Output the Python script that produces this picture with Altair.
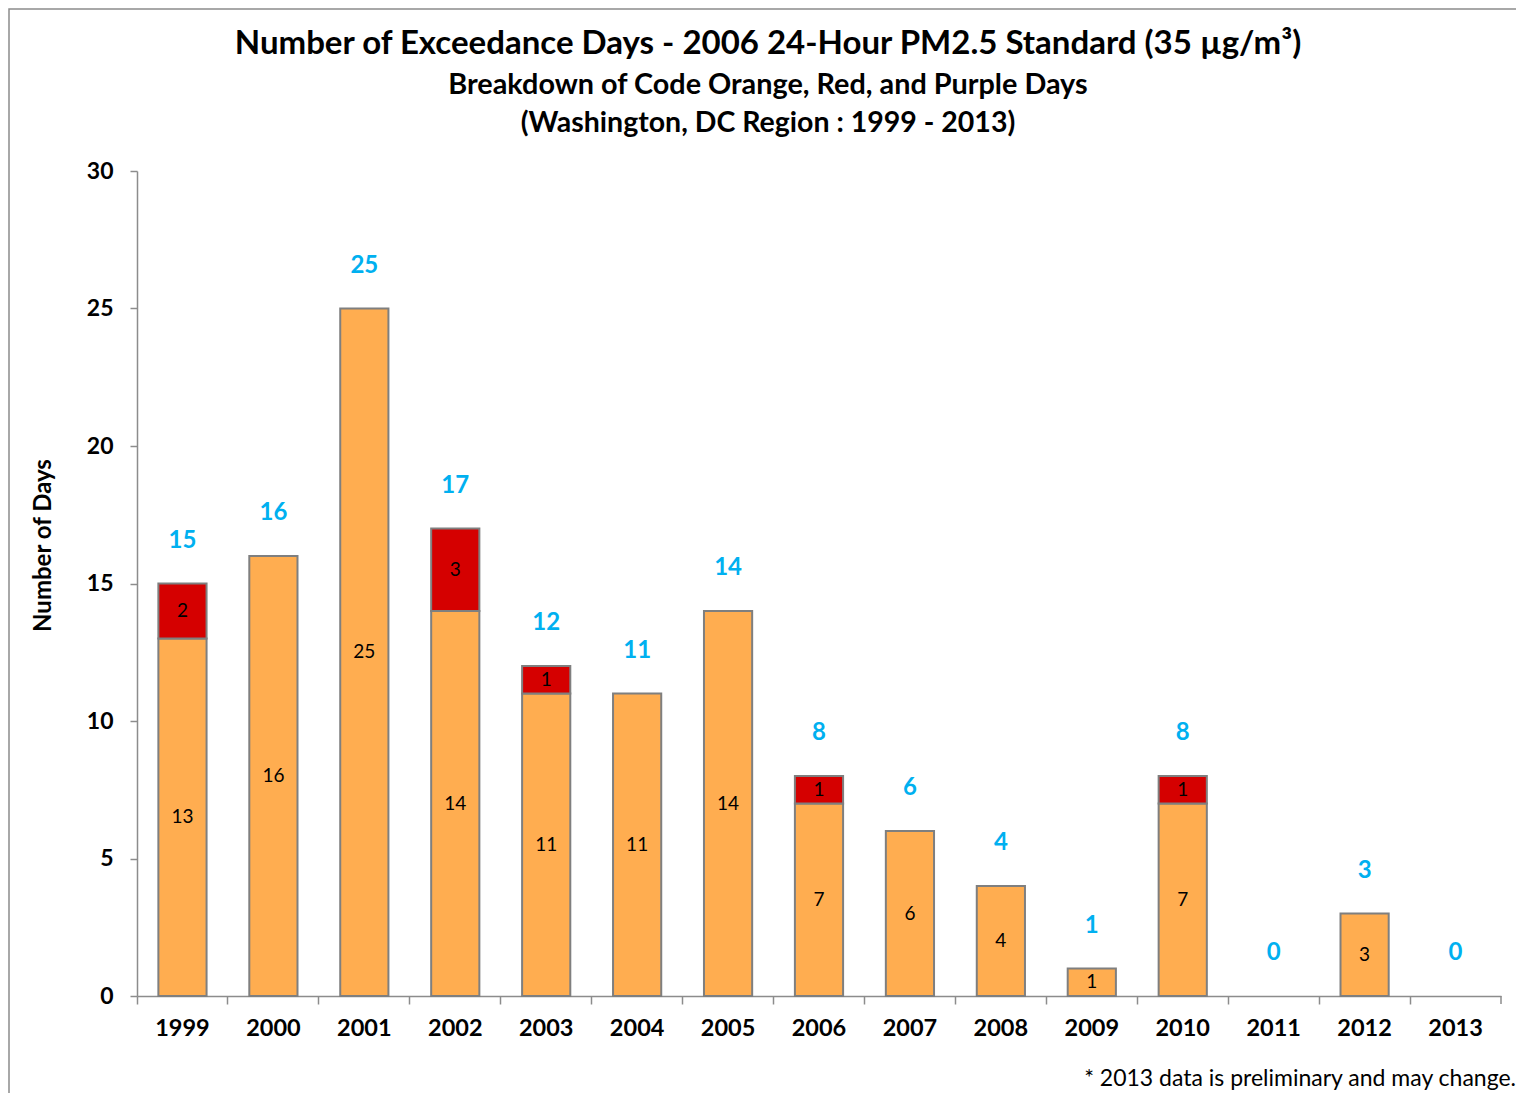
import altair as alt
import pandas as pd

years = ["1999", "2000", "2001", "2002", "2003", "2004", "2005", "2006",
         "2007", "2008", "2009", "2010", "2011", "2012", "2013"]
orange_days = [13, 16, 25, 14, 11, 11, 14, 7, 6, 4, 1, 7, 0, 3, 0]
red_days = [2, 0, 0, 3, 1, 0, 0, 1, 0, 0, 0, 1, 0, 0, 0]
categories = ["Code Orange", "Code Red"]
colors = ["#FFAD50", "#D50000"]

title_lines = [
    "Number of Exceedance Days - 2006 24-Hour PM2.5 Standard (35 µg/m³)",
    "Breakdown of Code Orange, Red, and Purple Days",
    "(Washington, DC Region : 1999 - 2013)",
]
footnote_text = "* 2013 data is preliminary and may change."

rows = []
for y, o, r in zip(years, orange_days, red_days):
    rows.append({"year": y, "cat": categories[0], "y0": 0, "y1": o, "days": o})
    rows.append({"year": y, "cat": categories[1], "y0": o, "y1": o + r, "days": r})
seg = pd.DataFrame(rows)
seg["mid"] = (seg["y0"] + seg["y1"]) / 2
seg = seg[seg["days"] > 0]

tot = pd.DataFrame({"year": years,
                    "total": [o + r for o, r in zip(orange_days, red_days)]})

FONT = "Lato"
W, H = 1364, 825

x_enc = alt.X("year:N", sort=years,
              scale=alt.Scale(paddingInner=0, paddingOuter=0),
              axis=alt.Axis(title=None, labelAngle=0, labelFont=FONT,
                            labelFontSize=23.5, labelFontWeight="bold",
                            labelColor="black", labelPadding=12,
                            tickColor="#8C8C8C", tickSize=8, tickWidth=1.5,
                            domainColor="#8C8C8C", domainWidth=1.5,
                            bandPosition=0))
y_scale = alt.Scale(domain=[0, 30], nice=False)

bars = alt.Chart(seg).mark_bar(width=alt.RelativeBandSize(0.53),
                               stroke="#7F7F7F", strokeWidth=2).encode(
    x=x_enc,
    y=alt.Y("y0:Q", scale=y_scale,
            axis=alt.Axis(title="Number of Days", values=[0, 5, 10, 15, 20, 25, 30],
                          grid=False, labelFont=FONT, labelFontSize=23,
                          labelFontWeight="bold", labelColor="black",
                          labelPadding=17, tickSize=7, tickColor="#8C8C8C",
                          tickWidth=1.5, domainColor="#8C8C8C", domainWidth=1.5,
                          titleFont=FONT, titleFontSize=24, titleFontWeight="bold",
                          titleColor="black", titleAngle=270, titleX=-94,
                          titleY=374, titleAlign="center",
                          titleBaseline="middle")),
    y2="y1:Q",
    color=alt.Color("cat:N", scale=alt.Scale(domain=categories, range=colors),
                    legend=None),
)

seg_labels = alt.Chart(seg).mark_text(font=FONT, fontSize=19, color="black",
                                      baseline="middle").encode(
    x=alt.X("year:N", sort=years),
    y=alt.Y("mid:Q", scale=y_scale),
    text="days:Q",
)

tot_labels = alt.Chart(tot).mark_text(font=FONT, fontSize=24, fontWeight="bold",
                                      color="#00B0F0", baseline="middle",
                                      dy=-43).encode(
    x=alt.X("year:N", sort=years),
    y=alt.Y("total:Q", scale=y_scale),
    text="total:Q",
)

one = alt.Data(values=[{"a": 1}])
end_tick = alt.Chart(one).mark_rule(color="#8C8C8C", strokeWidth=1.5).encode(
    x=alt.value(W), y=alt.value(H), y2=alt.value(H + 8))

frame = alt.Chart(one).mark_rect(fill=None, stroke="#8C8C8C", strokeWidth=1.5).encode(
    x=alt.value(-128), x2=alt.value(W + 60), y=alt.value(-162), y2=alt.value(H + 200))

title1 = alt.Chart(one).mark_text(font=FONT, fontSize=33, fontWeight="bold",
                                  color="black", align="center",
                                  baseline="middle").encode(
    x=alt.value(631), y=alt.value(-127), text=alt.value(title_lines[0]))
title2 = alt.Chart(one).mark_text(font=FONT, fontSize=28.8, fontWeight="bold",
                                  color="black", align="center",
                                  baseline="middle").encode(
    x=alt.value(631), y=alt.value(-86), text=alt.value(title_lines[1]))
title3 = alt.Chart(one).mark_text(font=FONT, fontSize=28.5, fontWeight="bold",
                                  color="black", align="center",
                                  baseline="middle").encode(
    x=alt.value(631), y=alt.value(-48), text=alt.value(title_lines[2]))

footnote = alt.Chart(one).mark_text(font=FONT, fontSize=23, color="black",
                                    align="right", baseline="alphabetic").encode(
    x=alt.value(1379), y=alt.value(915), text=alt.value(footnote_text))

chart = alt.layer(frame, bars, seg_labels, tot_labels, end_tick,
                  title1, title2, title3, footnote).properties(
    width=W, height=H,
    background="white",
    autosize=alt.AutoSizeParams(type="none"),
    padding={"left": 129, "top": 163, "right": 15, "bottom": 97},
).configure_view(strokeWidth=0, stroke="transparent")

chart.save("out.html", embed_options={"renderer": "svg", "actions": False})
